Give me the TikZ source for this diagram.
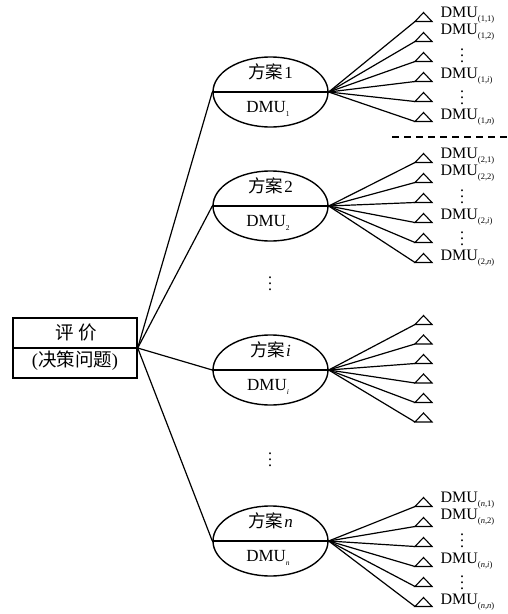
\documentclass[tikz,border=0pt]{standalone}
\usepackage{fontspec}
\setmainfont{Liberation Serif}
\newfontfamily\cjk{Noto Sans CJK SC}
\usetikzlibrary{shapes.geometric}
\newcommand\sbx[1]{\raisebox{-4pt}{\fontsize{8.5}{9}\selectfont #1}}
\newcommand\sbe[1]{\raisebox{-3.5pt}{\fontsize{7.5}{8}\selectfont #1}}
\newcommand\vd{\vbox{\fontsize{16}{6}\selectfont\baselineskip6pt\lineskiplimit-10pt\lineskip0pt\hbox{.}\hbox{.}\hbox{.}}}
\begin{document}
\begin{tikzpicture}[x=1pt,y=-1pt,line width=1.2pt,
  txt/.style={font=\fontsize{17}{19}\selectfont, inner sep=0pt},
  lab/.style={font=\fontsize{16}{18}\selectfont, inner sep=0pt, anchor=west},
  dots/.style={inner sep=0pt},
  oval/.style={draw, ellipse, minimum width=115, minimum height=70, inner sep=0pt, line width=1.4pt},
  tri/.style={line width=1.1pt, line join=miter}]
\useasboundingbox (0,0) rectangle (508,614);
% root box
\node[draw, minimum width=124, minimum height=60, inner sep=0pt, line width=1.4pt] (root) at (75,348) {};
\draw (root.west) -- (root.east);
\node[txt, font=\fontsize{18.5}{20}\selectfont] (rt) at (76,333) {{\cjk 评}\hspace{5pt}{\cjk 价}};
\node[txt, font=\fontsize{18.5}{20}\selectfont] (rb) at (75,361) {({\cjk 决策问题})};
% ellipses
\foreach \g/\ey/\nm in {1/92/1, 2/206/2, i/370/\textit{i}, n/541/\textit{n}} {
  \node[oval] (e\g) at (270.5,\ey) {};
  \draw (e\g.west) -- (e\g.east);
  \node[txt] (et\g) at (270.5,\ey-20) {{\cjk\fontsize{17.5}{19}\selectfont 方案}\hspace{1pt}\nm};
  \node[txt] (eb\g) at (268,\ey+17) {DMU\sbe{\nm}};
  \draw (root.east) -- (e\g.west);
}
% triangles and fans
\foreach \g/\ty/\sp in {1/17/20, 2/158/20, i/320/19.5, n/502/20} {
  \foreach \k in {0,...,5} {
    \pgfmathsetmacro\yy{\ty+\k*\sp}
    \coordinate (t\g-\k) at (415,\yy+4.5);
    \draw[tri] (t\g-\k) -- (423.5,\yy-4.5) -- (432,\yy+4.5) -- cycle;
    \draw (e\g.east) -- (t\g-\k);
  }
}
% labels
\foreach \g/\ty/\nm in {1/17/1, 2/158/2, n/502/\textit{n}} {
  \node[lab] (l\g-1) at (440,\ty-2) {DMU\sbx{(\nm,1)}};
  \node[lab] (l\g-2) at (440,\ty+15) {DMU\sbx{(\nm,2)}};
  \node[dots] (d\g-1) at (462,\ty+39) {\vd};
  \node[lab] (l\g-3) at (440,\ty+59) {DMU\sbx{(\nm,\textit{i})}};
  \node[dots] (d\g-2) at (462,\ty+81) {\vd};
  \node[lab] (l\g-4) at (440,\ty+100) {DMU\sbx{(\nm,\textit{n})}};
}
% dashed separator
\coordinate (ds) at (392,137);
\coordinate (de) at (508,137);
\draw[line width=1.6pt, dash pattern=on 7pt off 5pt] (ds) -- (de);
% vertical dots between ellipses
\node[dots] (vd1) at (270,284) {\vd};
\node[dots] (vd2) at (270,460) {\vd};
\end{tikzpicture}
\end{document}
